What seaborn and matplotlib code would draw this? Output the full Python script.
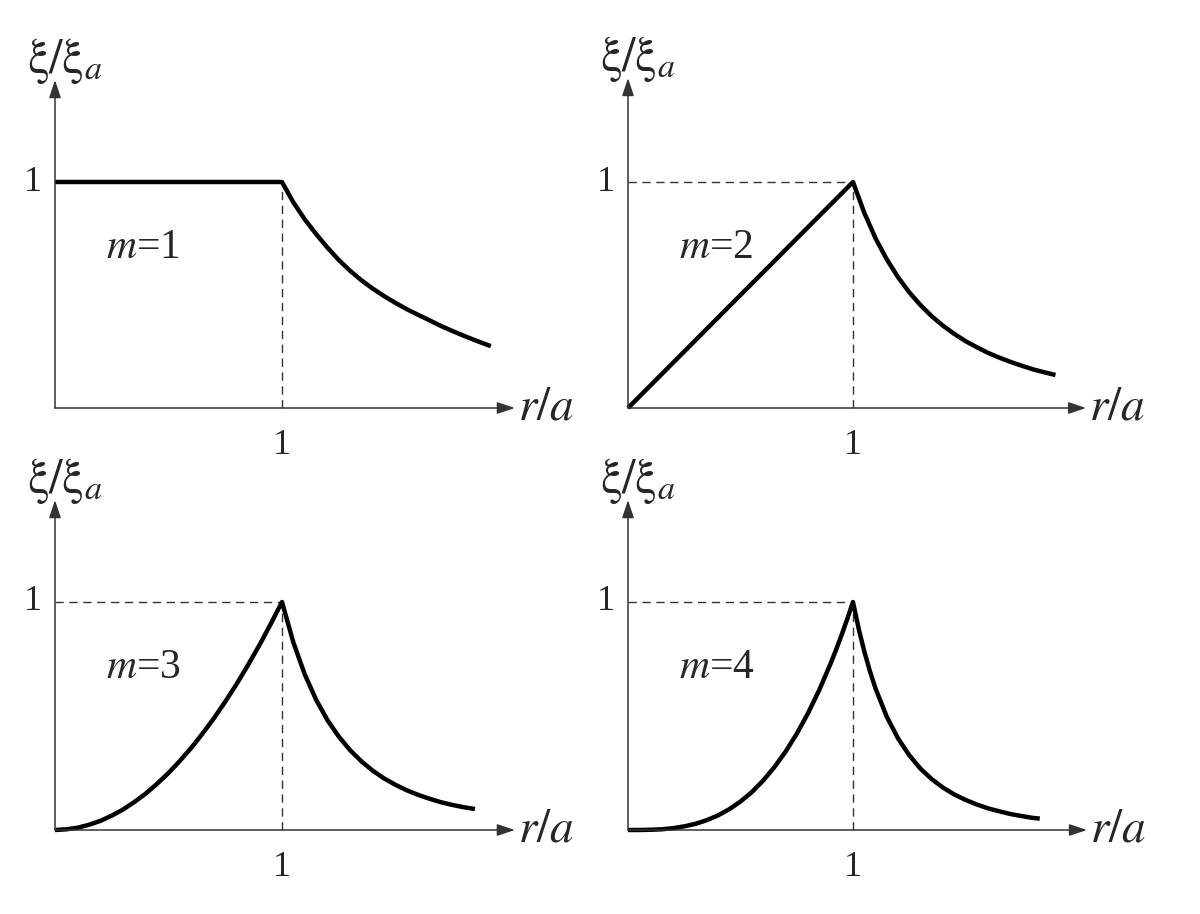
import matplotlib
matplotlib.use('Agg')
import matplotlib.pyplot as plt
import seaborn as sns
import pandas as pd

# values: r/a and xi/xi_a for each m
r_m1 = [0.0, 1.0, 1.05, 1.1, 1.15, 1.2, 1.25, 1.3, 1.35, 1.4, 1.45, 1.5,
        1.55, 1.6, 1.65, 1.7, 1.75, 1.8, 1.85, 1.9, 1.92]
v_m1 = [1.0, 1.0, 0.91, 0.835, 0.77, 0.71, 0.655, 0.607, 0.565, 0.528, 0.495, 0.465,
        0.437, 0.412, 0.388, 0.363, 0.341, 0.32, 0.3, 0.281, 0.274]

r_m2 = [0.0, 1.0, 1.05, 1.1, 1.15, 1.2, 1.25, 1.3, 1.35, 1.4, 1.45, 1.5,
        1.55, 1.6, 1.65, 1.7, 1.75, 1.8, 1.85, 1.9]
v_m2 = [0.0, 1.0, 0.864, 0.751, 0.658, 0.579, 0.512, 0.455, 0.406, 0.364, 0.328, 0.296,
        0.269, 0.244, 0.223, 0.204, 0.187, 0.171, 0.158, 0.146]

r_m3 = [0.0, 0.05, 0.1, 0.15, 0.2, 0.25, 0.3, 0.35, 0.4, 0.45, 0.5, 0.55, 0.6, 0.65,
        0.7, 0.75, 0.8, 0.85, 0.9, 0.95, 1.0,
        1.05, 1.1, 1.15, 1.2, 1.25, 1.3, 1.35, 1.4, 1.45, 1.5, 1.55, 1.6, 1.65,
        1.7, 1.75, 1.8, 1.85]
v_m3 = [0.0, 0.003, 0.01, 0.023, 0.04, 0.063, 0.09, 0.123, 0.16, 0.203, 0.25, 0.303, 0.36, 0.423,
        0.49, 0.563, 0.64, 0.723, 0.81, 0.903, 1.0,
        0.823, 0.683, 0.572, 0.482, 0.41, 0.35, 0.301, 0.26, 0.226, 0.198, 0.174, 0.154, 0.137,
        0.122, 0.11, 0.1, 0.092]

r_m4 = [0.0, 0.05, 0.1, 0.15, 0.2, 0.25, 0.3, 0.35, 0.4, 0.45, 0.5, 0.55, 0.6, 0.65,
        0.7, 0.75, 0.8, 0.85, 0.9, 0.925, 0.95, 0.975, 1.0,
        1.025, 1.05, 1.075, 1.1, 1.15, 1.2, 1.25, 1.3, 1.35, 1.4, 1.45, 1.5, 1.55,
        1.6, 1.65, 1.7, 1.75, 1.8, 1.83]
v_m4 = [0.0, 0.0, 0.001, 0.003, 0.008, 0.016, 0.027, 0.043, 0.064, 0.091, 0.125, 0.166, 0.216, 0.275,
        0.343, 0.422, 0.512, 0.614, 0.729, 0.791, 0.857, 0.927, 1.0,
        0.884, 0.784, 0.697, 0.621, 0.497, 0.402, 0.328, 0.269, 0.223, 0.186, 0.156, 0.132, 0.112,
        0.095, 0.082, 0.07, 0.061, 0.053, 0.05]

m_labels = ['1', '2', '3', '4']
tick_one = '1'

sns.set_style('white')
plt.rcParams['font.family'] = ['Liberation Serif', 'DejaVu Serif']
plt.rcParams['mathtext.fontset'] = 'stix'

W, H = 1200, 914
fig = plt.figure(figsize=(W / 100, H / 100), dpi=100)

# origin (px), unit length (px), axis extent in data units, per panel
layout = [
    (55, 408, 227, 226, 2.026, 1.451),
    (628, 408, 225, 226, 2.036, 1.460),
    (55, 830, 227, 228, 2.026, 1.447),
    (628, 830, 225, 228, 2.040, 1.447),
]
curves = [(r_m1, v_m1), (r_m2, v_m2), (r_m3, v_m3), (r_m4, v_m4)]

axis_col = '#333333'
for i, ((ox, oy, ux, uy, xmax, ymax), (r, v)) in enumerate(zip(layout, curves)):
    ax = fig.add_axes([ox / W, (H - oy) / H, xmax * ux / W, ymax * uy / H])
    ax.set_xlim(0, xmax)
    ax.set_ylim(0, ymax)
    ax.axis('off')

    # arrowed axes
    for tip in [(xmax, 0), (0, ymax)]:
        ax.annotate('', xy=tip, xytext=(0, 0), annotation_clip=False,
                    arrowprops=dict(arrowstyle='-|>,head_length=0.6,head_width=0.2',
                                    color=axis_col, lw=1.1,
                                    mutation_scale=18, shrinkA=0, shrinkB=0))

    # dashed guides to the peak
    ax.plot([1, 1], [0, 1], color='#333333', lw=1.0, ls=(0, (6, 4)), clip_on=False)
    if i > 0:
        ax.plot([0, 1], [1, 1], color='#333333', lw=1.0, ls=(0, (6, 4)), clip_on=False)

    df = pd.DataFrame({'r': r, 'v': v})
    sns.lineplot(data=df, x='r', y='v', sort=False, color='black', lw=3.2, ax=ax)
    ax.lines[-1].set_clip_on(False)
    ax.lines[-1].set_solid_capstyle('butt')

    ax.text(-0.097, 1.0, tick_one, fontsize=26, ha='center', va='center')
    ax.text(1.0, -37 / uy, tick_one, fontsize=26, ha='center', va='center')
    ax.text(-0.125, ymax + 19 / uy, r'$\mathrm{\xi}/\mathrm{\xi}_{a}$', fontsize=35,
            ha='left', va='center')
    ax.text(xmax + 0.015, 0.0, r'$r/a$', fontsize=34, ha='left', va='center')
    ax.text(0.225, 0.71, '$m$=' + m_labels[i], fontsize=30, ha='left', va='center')

fig.savefig('out.png', dpi=100, facecolor='white')
